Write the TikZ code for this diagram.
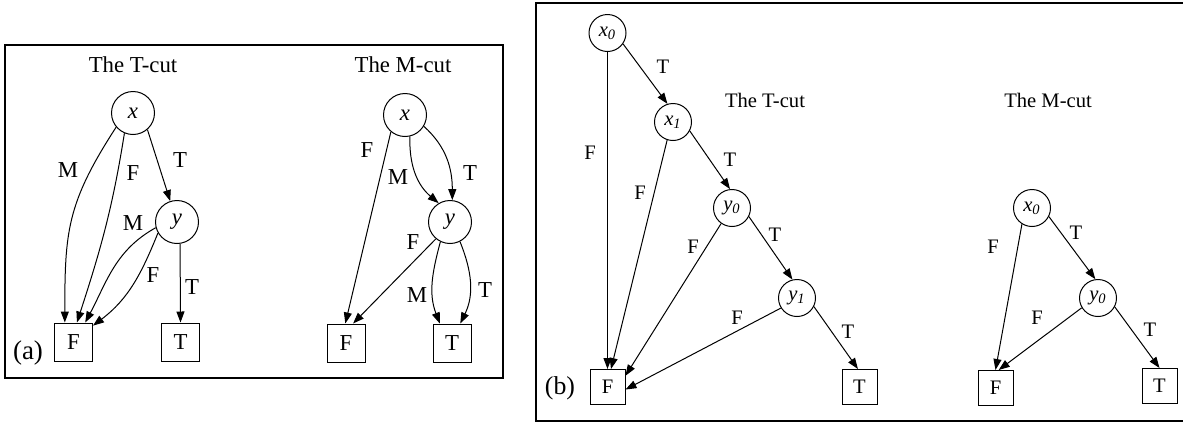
\documentclass[tikz,border=0pt]{standalone}
\usepackage{fontspec}
\setmainfont{Liberation Serif}
\usetikzlibrary{arrows.meta}

\begin{document}
\begin{tikzpicture}[x=0.5pt,y=-0.5pt,
        vtx/.style={circle,draw=black,line width=0.5pt,inner sep=0pt,minimum size=21.5pt,
                    font=\fontsize{11.4}{13}\selectfont\itshape},
        vtxs/.style={vtx,minimum size=18.5pt,font=\fontsize{10.3}{12}\selectfont\itshape},
        leaf/.style={rectangle,draw=black,line width=0.5pt,inner sep=0pt,minimum size=19pt,
                    font=\fontsize{11.4}{13}\selectfont},
        leafs/.style={leaf,minimum size=17.5pt,font=\fontsize{10.3}{12}\selectfont},
        elab/.style={inner sep=0pt,font=\fontsize{11.4}{13}\selectfont},
        elabs/.style={inner sep=0pt,font=\fontsize{10.3}{12}\selectfont},
        ttl/.style={anchor=base,inner sep=0pt,font=\fontsize{11.4}{13}\selectfont},
        ttls/.style={ttl,font=\fontsize{10.3}{12}\selectfont},
        tag/.style={inner sep=0pt,font=\fontsize{13.5}{15}\selectfont},
        arr/.style={-{Triangle[length=5.5pt,width=4pt]},line width=0.5pt},
        panel/.style={line width=1.4pt}]

      \useasboundingbox (0,0) rectangle (1183,424);

      \draw[panel] (5,45) rectangle (503,378);                          % (a)
      \draw[panel] (1195,3) -- (536,3) -- (536,421) -- (1195,421);      % (b)

      % (a) T-cut
      \node[ttl]  (ta)  at (133,72)    {The T-cut};
      \node[vtx]  (xa)  at (133,113)   {x};
      \node[vtx]  (ya)  at (177,222)   {y};
      \node[leaf] (fa)  at (73.5,342)  {F};
      \node[leaf] (tta) at (180.5,342) {T};

      \draw[arr] (xa.220) to[out=237,in=90,looseness=1.15] (fa.114);
      \draw[arr] (xa.247) to[out=261,in=72] (fa.80);
      \draw[arr] (xa.-49) -- (ya.108);
      \draw[arr] (ya.195) to[out=209,in=62] (fa.59);
      \draw[arr] (ya.210) to[out=248,in=37] (fa.40);
      \draw[arr] (ya.-82) -- (tta.north);

      \node[elab] (la1) at (68,170)  {M};
      \node[elab] (la2) at (133,173) {F};
      \node[elab] (la3) at (180,160) {T};
      \node[elab] (la4) at (133,223) {M};
      \node[elab] (la5) at (153,275) {F};
      \node[elab] (la6) at (192,287) {T};

      % (a) M-cut
      \node[ttl]  (tb)  at (403,72)  {The M-cut};
      \node[vtx]  (xb)  at (405,115) {x};
      \node[vtx]  (yb)  at (450,222) {y};
      \node[leaf] (fb)  at (346,343) {F};
      \node[leaf] (ttb) at (452,343) {T};

      \draw[arr] (xb.230) -- (fb.92);
      \draw[arr] (xb.-77) to[out=268,in=140] (yb.121);
      \draw[arr] (xb.-31) to[out=-42,in=90] (yb.84);
      \draw[arr] (yb.230) -- (fb.70);
      \draw[arr] (yb.244) to[out=255,in=111] (ttb.122);
      \draw[arr] (yb.-63) to[out=-68,in=64] (ttb.67);

      \node[elab] (lb1) at (367,150) {F};
      \node[elab] (lb2) at (398,177) {M};
      \node[elab] (lb3) at (470,173) {T};
      \node[elab] (lb4) at (413,242) {F};
      \node[elab] (lb5) at (417,295) {M};
      \node[elab] (lb6) at (485,290) {T};

      \node[tag] (pa) at (28,353) {(a)};

      % (b) T-cut
      \node[ttls]  (tc)  at (765,107)   {The T-cut};
      \node[vtxs]  (x0)  at (607.5,33)  {x\textsubscript{0}};
      \node[vtxs]  (x1)  at (673,122)   {x\textsubscript{1}};
      \node[vtxs]  (y0)  at (732,208)   {y\textsubscript{0}};
      \node[vtxs]  (y1)  at (797,298)   {y\textsubscript{1}};
      \node[leafs] (fc)  at (607.5,387) {F};
      \node[leafs] (ttc) at (859.5,387) {T};

      \draw[arr] (x0) -- (fc);
      \draw[arr] (x0.-35) -- (x1.107);
      \draw[arr] (x1.252) -- (fc.79);
      \draw[arr] (x1.-28) -- (y0.96);
      \draw[arr] (y0.235) -- (fc.32);
      \draw[arr] (y0.-27) -- (y1.104);
      \draw[arr] (y1.212) -- (fc.-8);
      \draw[arr] (y1.-27) -- (ttc.95);

      \node[elabs] (lc1) at (663,67)  {T};
      \node[elabs] (lc2) at (590,153) {F};
      \node[elabs] (lc3) at (730,160) {T};
      \node[elabs] (lc4) at (640,193) {F};
      \node[elabs] (lc5) at (693,247) {F};
      \node[elabs] (lc6) at (775,235) {T};
      \node[elabs] (lc7) at (737,318) {F};
      \node[elabs] (lc8) at (848,332) {T};

      % (b) M-cut
      \node[ttls]  (td)  at (1048,107)  {The M-cut};
      \node[vtxs]  (x0m) at (1032,208)  {x\textsubscript{0}};
      \node[vtxs]  (y0m) at (1098,298)  {y\textsubscript{0}};
      \node[leafs] (fd)  at (995.5,388) {F};
      \node[leafs] (ttd) at (1159.5,386) {T};

      \draw[arr] (x0m.238) -- (fd.north);
      \draw[arr] (x0m.-27) -- (y0m.98);
      \draw[arr] (y0m.211) -- (fd.80);
      \draw[arr] (y0m.-28) -- (ttd.north);

      \node[elabs] (ld1) at (993,247)  {F};
      \node[elabs] (ld2) at (1076,233) {T};
      \node[elabs] (ld3) at (1037,318) {F};
      \node[elabs] (ld4) at (1150,330) {T};

      \node[tag,font=\fontsize{12.9}{14}\selectfont] (pb) at (560,388) {(b)};
    \end{tikzpicture}
\end{document}
